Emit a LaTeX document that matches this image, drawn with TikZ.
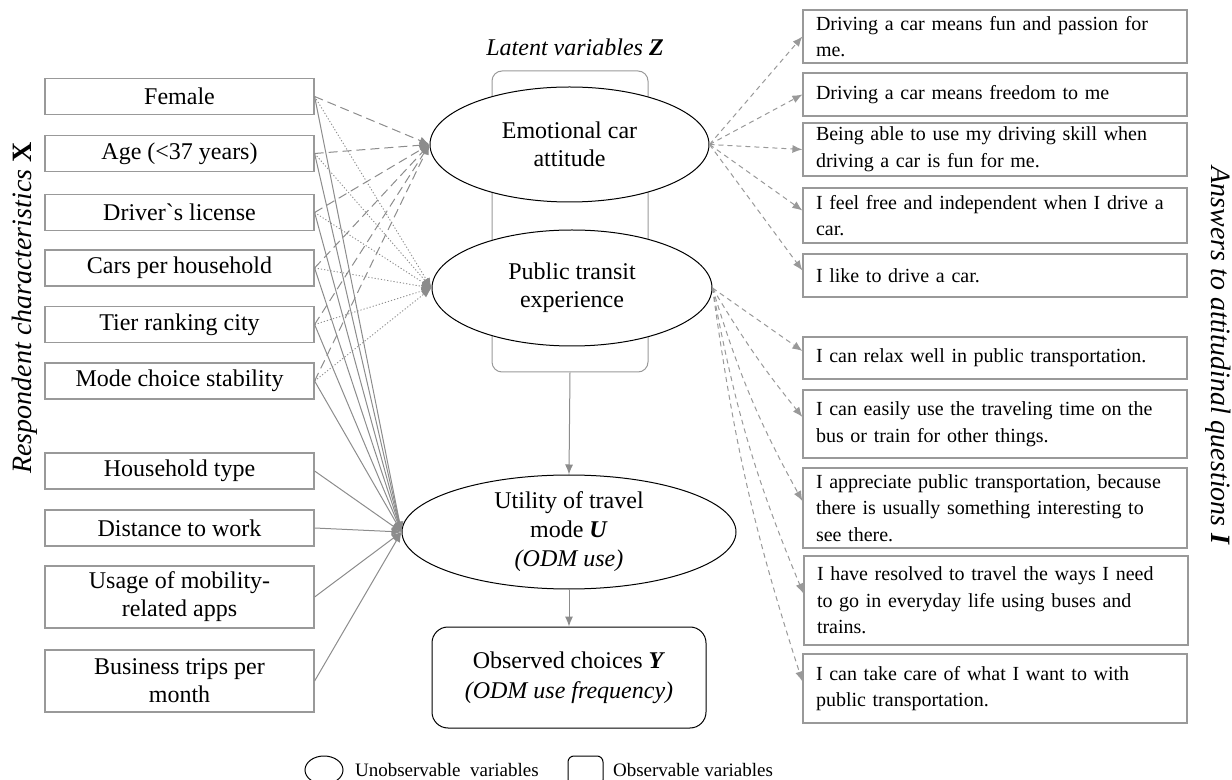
\documentclass[tikz,border=0pt]{standalone}
\usepackage{fontspec}
\setmainfont{Liberation Serif}
\usetikzlibrary{shapes.geometric,arrows.meta}
\begin{document}
\begin{tikzpicture}[x=0.5pt,y=-0.5pt,
    xbox/.style={draw=black!40,line width=0.6pt,minimum width=134.5pt,minimum height=18pt,inner sep=0pt,align=center,font=\fontsize{12}{14}\selectfont},
    ibox/.style={draw=black!40,line width=0.6pt,minimum width=192pt,inner sep=0pt,text width=179pt,align=left,font=\fontsize{10}{13.3}\selectfont},
    lat/.style={ellipse,draw=black,line width=0.5pt,fill=white,inner sep=0pt,align=center,font=\fontsize{12}{14}\selectfont},
    tip/.style={-{Latex[length=5pt,width=4pt]}},
    toemo/.style={tip,black!45,line width=0.5pt,dash pattern=on 4.5pt off 2.5pt},
    topt/.style={tip,black!45,line width=0.45pt,dash pattern=on 0.6pt off 1pt},
    tou/.style={tip,black!45,line width=0.5pt},
    toi/.style={tip,black!40,line width=0.5pt,dash pattern=on 2.5pt off 2pt},
    every node/.style={font=\fontsize{12}{14}\selectfont}]
  \useasboundingbox (0,0) rectangle (1232,780);
  % respondent characteristics X
  \node[xbox] (fem)   at (179.5,96.5) {Female};
  \node[xbox] (age)   at (179.5,153.5) {Age (<37 years)};
  \node[xbox] (lic)   at (179.5,212.5) {Driver\textasciigrave s license};
  \node[xbox] (cars)  at (179.5,268) {Cars per household};
  \node[xbox] (tier)  at (179.5,324.5) {Tier ranking city};
  \node[xbox] (mode)  at (179.5,381) {Mode choice stability};
  \node[xbox] (hh)    at (179.5,471) {Household type};
  \node[xbox] (dist)  at (179.5,528) {Distance to work};
  \node[xbox,minimum height=31pt] (apps)  at (179.5,597) {Usage of mobility-\\related apps};
  \node[xbox,minimum height=31pt] (trips) at (179.5,681) {Business trips per\\month};
  \node[rotate=90,font=\fontsize{14}{16}\selectfont] (xlab) at (25,308) {\textit{Respondent characteristics} \textbf{X}};
  % latent variables Z
  \node (zlab) at (575,47) {\textit{Latent variables} \textbf{\textit{Z}}};
  \node[draw=black!40,line width=0.5pt,rounded corners=5pt,minimum width=78pt,minimum height=150.5pt] (zbox) at (570,221.5) {};
  \node[lat,minimum width=139.5pt,minimum height=57.5pt] (emo) at (569.5,144.5) {Emotional car\\attitude};
  \node[lat,minimum width=140pt,minimum height=58pt] (pt) at (572,288) {Public transit\\experience};
  \node[lat,minimum width=167pt,minimum height=57pt,font=\fontsize{12}{14.5}\selectfont] (util) at (569,532) {Utility of travel\\mode \textbf{\textit{U}}\\\textit{(ODM use)}};
  \node[draw=black,line width=0.5pt,rounded corners=8pt,minimum width=137pt,minimum height=50.5pt,align=center,font=\fontsize{12}{15}\selectfont] (obs) at (569,677.5) {Observed choices \textbf{\textit{Y}}\\\textit{(ODM use frequency)}};
  \draw[tou] (zbox.south) -- (util.north);
  \draw[tou] (util.south) -- (obs.north);
  % answers to attitudinal questions I
  \node[ibox,minimum height=26.5pt] (q1) at (995,36.5) {Driving a car means fun and passion for\\me.};
  \node[ibox,minimum height=21.5pt] (q2) at (995,94.5) {Driving a car means freedom to me};
  \node[ibox,minimum height=26.5pt] (q3) at (995,149.5) {Being able to use my driving skill when\\driving a car is fun for me.};
  \node[ibox,minimum height=27.5pt] (q4) at (995,215.5) {I feel free and independent when I drive a\\car.};
  \node[ibox,minimum height=21.5pt] (q5) at (995,275.5) {I like to drive a car.};
  \node[ibox,minimum height=21pt] (q6) at (995,358) {I can relax well in public transportation.};
  \node[ibox,minimum height=34pt] (q7) at (995,424) {I can easily use the traveling time on the\\bus or train for other things.};
  \node[ibox,minimum height=40pt] (q8) at (995,508) {I appreciate public transportation, because\\there is usually something interesting to\\see there.};
  \node[ibox,minimum height=44.5pt] (q9) at (996,600.5) {I have resolved to travel the ways I need\\to go in everyday life using buses and\\trains.};
  \node[ibox,minimum height=34.5pt] (q10) at (995,688.5) {I can take care of what I want to with\\public transportation.};
  \node[rotate=-90,font=\fontsize{14}{16}\selectfont] (ilab) at (1218,356) {\textit{Answers to attitudinal questions} \textbf{\textit{I}}};
  % structural part
  \foreach \b in {fem,age,lic,cars,tier,mode}{
    \draw[toemo] (\b.east) -- (emo.west);
    \draw[topt] (\b.east) -- (pt.west);
    \draw[tou] (\b.east) -- (util.west);
  }
  \foreach \b in {hh,dist,apps,trips}
    \draw[tou] (\b.east) -- (util.west);
  % measurement part
  \foreach \q/\s in {q1/0,q2/0,q3/0,q4/2.5,q5/2.5}
    \draw[toi] (emo.east) -- ([yshift=\s pt]\q.west);
  \foreach \q/\bb in {q6/0,q7/4,q8/6,q9/6,q10/5}
    \draw[toi] (pt.east) to[bend right=\bb] ([yshift=3.5pt]\q.west);
  % legend
  \node[ellipse,draw=black,line width=0.5pt,minimum width=19pt,minimum height=14pt,inner sep=0pt] (lgell) at (324,770) {};
  \node[anchor=west,font=\fontsize{9.5}{11}\selectfont] (lgelltxt) at (348,770) {Unobservable\ \ variables};
  \node[draw=black,line width=0.5pt,rounded corners=3pt,minimum width=17.5pt,minimum height=15pt,inner sep=0pt] (lgbox) at (585.5,771) {};
  \node[anchor=west,font=\fontsize{9.5}{11}\selectfont] (lgboxtxt) at (606,770) {Observable variables};
\end{tikzpicture}
\end{document}
